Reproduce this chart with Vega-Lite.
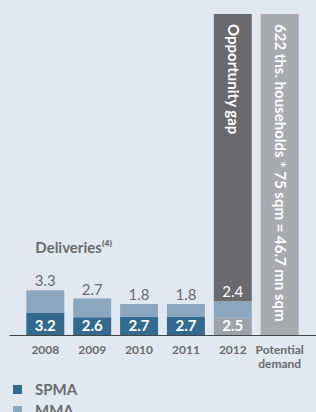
{
  "$schema": "https://vega.github.io/schema/vega-lite/v6.json",
  "width": 307,
  "height": 321,
  "autosize": "none",
  "padding": {"left": 9, "top": 14, "right": 0, "bottom": 77},
  "background": "#e1e8f0",
  "config": {"view": {"stroke": null}, "font": "Lato"},
  "encoding": {
    "x": {
      "field": "cat",
      "type": "nominal",
      "sort": null,
      "scale": {"domain": ["2008", "2009", "2010", "2011", "2012", "Potential demand"], "paddingInner": 0.19, "paddingOuter": 0.37},
      "axis": {
        "title": null,
        "ticks": false,
        "labelAngle": 0,
        "labelFontSize": 12,
        "labelFontWeight": "bold",
        "labelColor": "#6b6b6b",
        "labelPadding": 9,
        "labelLineHeight": 14,
        "domainColor": "#444444",
        "domainWidth": 1,
        "labelExpr": "datum.label == 'Potential demand' ? ['Potential', 'demand'] : datum.label"
      }
    }
  },
  "layer": [
    {
      "data": {"name": "main", "values": [
        {"cat": "2008", "seg": "SPMA", "v": 3.2, "seq": 1},
        {"cat": "2008", "seg": "MMA", "v": 3.3, "seq": 2},
        {"cat": "2009", "seg": "SPMA", "v": 2.6, "seq": 1},
        {"cat": "2009", "seg": "MMA", "v": 2.7, "seq": 2},
        {"cat": "2010", "seg": "SPMA", "v": 2.7, "seq": 1},
        {"cat": "2010", "seg": "MMA", "v": 1.8, "seq": 2},
        {"cat": "2011", "seg": "SPMA", "v": 2.7, "seq": 1},
        {"cat": "2011", "seg": "MMA", "v": 1.8, "seq": 2},
        {"cat": "2012", "seg": "SPMA 2012", "v": 2.5, "seq": 1},
        {"cat": "2012", "seg": "MMA", "v": 2.4, "seq": 2},
        {"cat": "2012", "seg": "Opportunity gap", "v": 41.8, "seq": 3, "note": "Opportunity gap"},
        {"cat": "Potential demand", "seg": "Potential demand", "v": 46.7, "seq": 1, "note": "622 ths. households * 75 sqm = 46.7 mn sqm"}
      ]},
      "transform": [{"stack": "v", "groupby": ["cat"], "sort": [{"field": "seq"}], "as": ["y0", "y1"]}],
      "layer": [
        {
          "mark": {"type": "bar"},
          "encoding": {
            "y": {"field": "y0", "type": "quantitative", "scale": {"domain": [0, 46.7], "nice": false, "zero": true}, "axis": null},
            "y2": {"field": "y1"},
            "color": {
              "field": "seg",
              "type": "nominal",
              "scale": {
                "domain": ["SPMA", "MMA", "SPMA 2012", "Opportunity gap", "Potential demand"],
                "range": ["#336b8f", "#8ba7c0", "#9da3aa", "#6a6a6e", "#a9aaae"]
              },
              "legend": {
                "values": ["SPMA", "MMA"],
                "title": null,
                "orient": "none",
                "legendX": 1,
                "legendY": 368,
                "direction": "vertical",
                "symbolType": "square",
                "symbolSize": 81,
                "symbolStrokeWidth": 0,
                "labelFontSize": 15,
                "labelFontWeight": "bold",
                "labelColor": "#6b6b6b",
                "labelOffset": 10,
                "rowPadding": 5
              }
            }
          }
        },
        {
          "transform": [{"filter": "datum.seg == 'MMA'"}],
          "mark": {"type": "text", "baseline": "alphabetic", "dy": -4, "fontSize": 15},
          "encoding": {
            "y": {"field": "y1", "type": "quantitative"},
            "text": {"field": "v", "type": "quantitative", "format": ".1f"},
            "color": {"condition": {"test": "datum.cat == '2012'", "value": "#ffffff"}, "value": "#6b6b6b"}
          }
        },
        {
          "transform": [{"filter": "datum.seq == 1 && datum.note == null"}],
          "mark": {"type": "text", "baseline": "alphabetic", "dy": -4, "fontSize": 15, "fontWeight": "bold", "color": "#ffffff"},
          "encoding": {
            "y": {"field": "y0", "type": "quantitative"},
            "text": {"field": "v", "type": "quantitative", "format": ".1f"}
          }
        },
        {
          "transform": [{"filter": "datum.note != null"}],
          "mark": {"type": "text", "angle": 90, "align": "left", "baseline": "middle", "dx": 10, "fontSize": 15, "fontWeight": "bold", "color": "#ffffff"},
          "encoding": {
            "y": {"field": "y1", "type": "quantitative"},
            "text": {"field": "note"}
          }
        }
      ]
    },
    {
      "data": {"values": [{"t": "Deliveries⁽⁴⁾"}]},
      "mark": {"type": "text", "align": "left", "baseline": "alphabetic", "dx": -10, "fontSize": 15, "fontWeight": "bold", "color": "#6b6b6b"},
      "encoding": {
        "x": {"datum": "2008", "type": "nominal"},
        "y": {"datum": 12, "type": "quantitative"},
        "text": {"field": "t"}
      }
    }
  ]
}
